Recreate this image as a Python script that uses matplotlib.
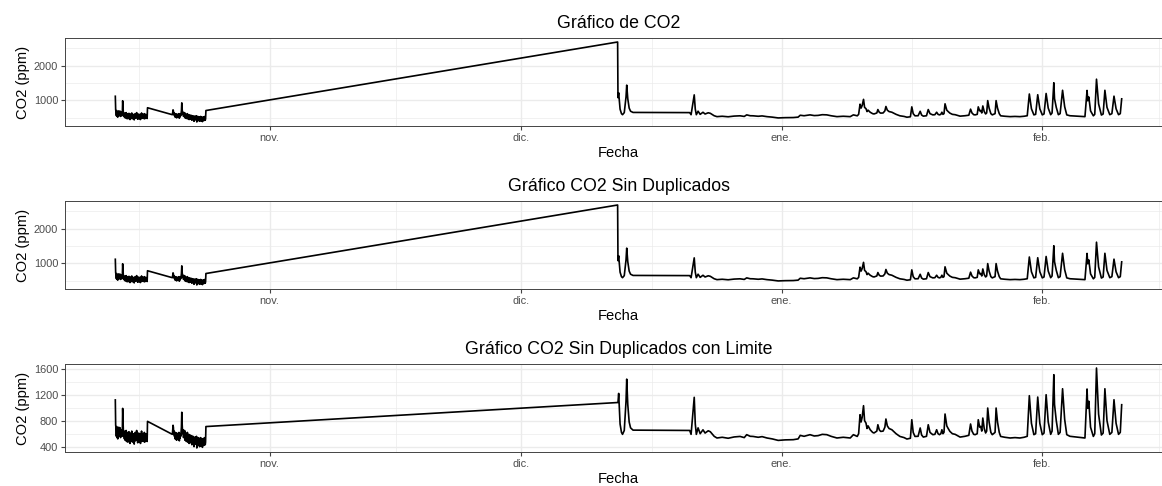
import matplotlib
matplotlib.use("Agg")
import matplotlib.pyplot as plt
import matplotlib.dates as mdates
from matplotlib.ticker import MultipleLocator, FixedLocator
import pandas as pd

# Registro del sensor: horas transcurridas desde el inicio y lectura de CO2 (ppm)
inicio = pd.Timestamp("2022-10-13 00:00")

horas = [
    15, 16, 17, 18, 19, 20, 21, 22, 23, 24, 25, 26, 27, 28, 29, 30, 31, 32, 33, 34,
    35, 36, 37, 38, 39, 40, 41, 42, 43, 44, 45, 46, 47, 48, 49, 50, 51, 52, 53, 54,
    55, 56, 57, 58, 59, 60, 61, 62, 63, 64, 65, 66, 67, 68, 69, 70, 71, 72, 73, 74,
    75, 76, 77, 78, 79, 80, 81, 82, 83, 84, 85, 86, 87, 88, 89, 90, 91, 92, 93, 94,
    95, 96, 97, 98, 99, 100, 101, 102, 103, 104, 105, 106, 107,
    178, 179, 180, 181, 182, 183, 184, 185, 186, 187, 188, 189, 190, 191, 192, 193,
    194, 195, 196, 197, 198, 199, 200, 201, 202, 203, 204, 205, 206, 207, 208, 209,
    210, 211, 212, 213, 214, 215, 216, 217, 218, 219, 220, 221, 222, 223, 224, 225,
    226, 227, 228, 229, 230, 231, 232, 233, 234, 235, 236, 237, 238, 239, 240, 241,
    242, 243, 244, 245, 246, 247, 248, 249, 250, 251, 252, 253, 254, 255, 256, 257,
    258, 259, 260, 261, 262, 263, 264, 265, 266, 267, 268, 269, 270, 271, 272, 273, 274,
    1451, 1452, 1454, 1458, 1462, 1465, 1470, 1475, 1477, 1480, 1484, 1488, 1495,
    1657, 1661, 1670, 1673, 1676, 1681, 1687, 1695, 1701, 1710, 1716, 1727, 1735,
    1750, 1767, 1784, 1801, 1813, 1820, 1830, 1838, 1853, 1864, 1878, 1893, 1910,
    1930, 1953, 1967, 1973, 1984, 2001, 2013, 2024, 2036, 2049, 2061, 2078, 2096,
    2116, 2125, 2136, 2140, 2144, 2147, 2150, 2154, 2157, 2161, 2164, 2167, 2173,
    2180, 2184, 2192, 2195, 2199, 2203, 2210, 2215, 2218, 2222, 2227, 2235, 2247,
    2258, 2270, 2278, 2288, 2292, 2296, 2301, 2310, 2316, 2320, 2325, 2334, 2339,
    2344, 2352, 2358, 2363, 2367, 2371, 2375, 2378, 2381, 2384, 2387, 2392, 2396,
    2401, 2408, 2416, 2430, 2444, 2455, 2460, 2464, 2469, 2473, 2479, 2482, 2486,
    2489, 2492, 2495, 2499, 2503, 2506, 2509, 2513, 2518, 2522, 2530, 2533, 2537,
    2542, 2546, 2558, 2573, 2587, 2601, 2613, 2622, 2628, 2634, 2641, 2646, 2652,
    2658, 2665, 2670, 2676, 2682, 2689, 2693, 2698, 2700, 2705, 2711, 2716, 2723,
    2729, 2735, 2744, 2763, 2778, 2787, 2793, 2795, 2798, 2803, 2811, 2815, 2820,
    2826, 2834, 2839, 2844, 2850, 2858, 2864, 2870, 2876, 2883, 2888, 2892,
]

co2 = [
    1120, 730, 690, 560, 710, 540, 660, 520, 640, 580, 700, 560, 650, 600, 690, 540, 620, 580, 660, 560,
    610, 990, 820, 640, 560, 600, 520, 640, 500, 610, 540, 650, 480, 590, 530, 620, 470, 600, 540, 630,
    500, 580, 450, 610, 520, 560, 480, 640, 530, 590, 470, 560, 520, 600, 440, 580, 510, 620, 490, 570,
    540, 650, 500, 600, 460, 580, 530, 610, 470, 590, 510, 570, 450, 600, 520, 640, 490, 580, 530, 600,
    480, 570, 510, 620, 470, 590, 540, 600, 490, 580, 520, 480, 790,
    590, 650, 730, 700, 600, 640, 560, 600, 520, 620, 540, 590, 500, 610, 560, 580,
    510, 600, 540, 620, 490, 570, 530, 600, 560, 640, 700, 930, 760, 650, 600, 660,
    540, 630, 580, 650, 500, 620, 560, 600, 480, 580, 540, 620, 470, 560, 520, 590,
    450, 560, 510, 580, 460, 540, 500, 570, 430, 530, 490, 560, 470, 520, 400, 540,
    480, 550, 440, 510, 470, 560, 380, 500, 460, 540, 420, 510, 470, 530, 400, 490,
    450, 540, 410, 500, 460, 520, 390, 480, 450, 530, 420, 490, 460, 540, 430, 470, 710,
    2680, 1080, 1220, 750, 620, 590, 650, 1100, 1440, 1050, 780, 690, 655,
    650, 590, 1160, 750, 590, 690, 600, 660, 610, 645, 630, 560, 534,
    545, 530, 550, 558, 540, 585, 560, 558, 545, 555, 534, 520, 497,
    505, 508, 520, 574, 560, 585, 565, 570, 590, 585, 560, 534, 545,
    534, 585, 558, 600, 892, 780, 850, 1031, 800, 764, 680, 720, 661,
    620, 611, 640, 738, 660, 635, 640, 700, 826, 720, 680, 661, 600,
    558, 540, 518, 530, 815, 620, 558, 560, 688, 580, 548, 560, 738,
    620, 585, 590, 661, 600, 585, 600, 661, 600, 620, 903, 720, 680,
    635, 600, 590, 548, 560, 575, 749, 640, 590, 585, 600, 815, 700,
    712, 640, 841, 680, 611, 640, 995, 780, 620, 585, 620, 995, 780,
    620, 558, 545, 534, 540, 534, 545, 560, 1185, 760, 585, 600, 1164,
    760, 585, 610, 1200, 780, 590, 640, 1508, 1050, 800, 590, 620, 1292,
    820, 585, 560, 548, 540, 534, 1288, 990, 1100, 700, 558, 600, 1611,
    900, 580, 610, 1292, 800, 590, 620, 1123, 760, 590, 620, 1046,
]

limite = 2000

titulos = [
    "Gráfico de CO2",
    "Gráfico CO2 Sin Duplicados",
    "Gráfico CO2 Sin Duplicados con Limite",
]
inicio_mes = ["2022-11-01", "2022-12-01", "2023-01-01", "2023-02-01"]
etiquetas_mes = ["nov.", "dic.", "ene.", "feb."]
mitad_mes = ["2022-10-16 12:00", "2022-11-16 00:00", "2022-12-16 12:00",
             "2023-01-16 12:00", "2023-02-15 00:00"]

df = pd.DataFrame({"Fecha": inicio + pd.to_timedelta(horas, unit="h"), "CO2": co2})
df_sin_dup = df.drop_duplicates(subset="Fecha")
df_limite = df_sin_dup[df_sin_dup["CO2"] <= limite]
tablas = [df, df_sin_dup, df_limite]

plt.rcParams["font.family"] = ["Liberation Sans", "DejaVu Sans"]

W, H = 1162, 486
fig = plt.figure(figsize=(W / 100, H / 100), dpi=100)

izq = 65 / W
ancho = (1172 - 65) / W
alto = 88 / H
bases = [1 - 126 / H, 1 - 289 / H, 1 - 452 / H]

gris_borde = "#444444"
gris_texto = "#4D4D4D"
gris_rejilla = "#EBEBEB"

for i, (tabla, titulo, base) in enumerate(zip(tablas, titulos, bases)):
    ax = fig.add_axes([izq, base, ancho, alto])
    ax.plot(tabla["Fecha"], tabla["CO2"], color="black", lw=1.2, solid_joinstyle="round")
    ax.margins(x=0.05, y=0.05)

    ax.xaxis.set_major_locator(FixedLocator(mdates.date2num(pd.to_datetime(inicio_mes))))
    ax.xaxis.set_minor_locator(FixedLocator(mdates.date2num(pd.to_datetime(mitad_mes))))
    ax.set_xticklabels(etiquetas_mes)

    if i < 2:
        ax.yaxis.set_major_locator(MultipleLocator(1000))
        ax.yaxis.set_minor_locator(MultipleLocator(500))
    else:
        ax.yaxis.set_major_locator(MultipleLocator(400))
        ax.yaxis.set_minor_locator(MultipleLocator(200))

    ax.set_axisbelow(True)
    ax.grid(which="major", color=gris_rejilla, lw=1.0)
    ax.grid(which="minor", color=gris_rejilla, lw=0.5)
    for s in ax.spines.values():
        s.set_color(gris_borde)
        s.set_linewidth(0.7)

    ax.tick_params(which="major", direction="out", length=2.7, width=0.8,
                   color=gris_borde, labelcolor=gris_texto, labelsize=7.9, pad=2.2)
    ax.tick_params(which="minor", length=0)

    ax.set_title(titulo, fontsize=12.8, pad=7)
    ax.set_xlabel("Fecha", fontsize=10.6, labelpad=2)
    ax.set_ylabel("CO2 (ppm)", fontsize=10.6, labelpad=3)

fig.savefig("out.png", dpi=100)
